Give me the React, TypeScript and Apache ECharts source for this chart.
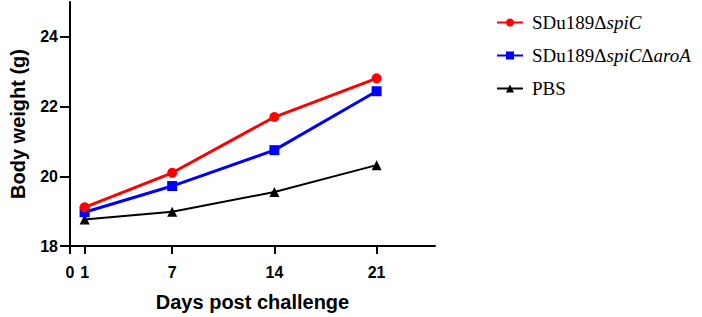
import React, { useEffect, useRef } from "react";
import * as echarts from "echarts";

const days = [1, 7, 14, 21];
const spiC = [19.11, 20.1, 21.7, 22.81];
const spiCaroA = [18.97, 19.72, 20.75, 22.44];
const pbs = [18.76, 18.98, 19.55, 20.32];
const xTicks = [0, 1, 7, 14, 21];
const yTicks = [18, 20, 22, 24];
const seriesNames = ["SDu189ΔspiC", "SDu189ΔspiCΔaroA", "PBS"];
const legendLabels: Record<string, string> = {
  "SDu189ΔspiC": "SDu189Δ{i|spiC}",
  "SDu189ΔspiCΔaroA": "SDu189Δ{i|spiC}Δ{i|aroA}",
  PBS: "PBS",
};

export default function App() {
  const ref = useRef<HTMLDivElement>(null);
  useEffect(() => {
    if (!ref.current) return;
    const chart = echarts.init(ref.current, undefined, { renderer: "svg" });
    const pair = (vals: number[]) => days.map((d, i) => [d, vals[i]]);
    const sans = "Liberation Sans";
    chart.setOption({
      animation: false,
      grid: { left: 64, top: 2, width: 371, height: 246, containLabel: false },
      xAxis: {
        type: "value",
        min: 0,
        max: 25,
        name: "Days post challenge",
        nameLocation: "middle",
        nameGap: 46,
        nameTextStyle: { fontFamily: sans, fontWeight: "bold", fontSize: 20, color: "#000" },
        axisLine: { show: true, onZero: false, lineStyle: { color: "#000", width: 2 } },
        axisTick: { show: true, length: 8, customValues: xTicks, lineStyle: { color: "#000", width: 2 } },
        axisLabel: {
          customValues: xTicks,
          margin: 18,
          fontFamily: sans,
          fontWeight: "bold",
          fontSize: 16,
          color: "#000",
        },
        splitLine: { show: false },
      },
      yAxis: {
        type: "value",
        min: 18,
        max: 25,
        name: "Body weight (g)",
        nameLocation: "middle",
        nameGap: 42,
        nameTextStyle: { fontFamily: sans, fontWeight: "bold", fontSize: 20, color: "#000" },
        axisLine: { show: true, onZero: false, lineStyle: { color: "#000", width: 2 } },
        axisTick: { show: true, length: 10, customValues: yTicks, lineStyle: { color: "#000", width: 2 } },
        axisLabel: {
          customValues: yTicks,
          margin: 12,
          fontFamily: sans,
          fontWeight: "bold",
          fontSize: 16,
          color: "#000",
        },
        splitLine: { show: false },
      },
      legend: {
        orient: "vertical",
        left: 491,
        top: 7,
        itemWidth: 26,
        itemHeight: 10,
        itemGap: 12,
        data: seriesNames,
        formatter: (name: string) => legendLabels[name] || name,
        textStyle: {
          fontFamily: "Liberation Serif",
          fontSize: 19,
          color: "#000",
          lineHeight: 21,
          padding: [0, 0, 0, 4],
          rich: {
            i: { fontFamily: "Liberation Serif", fontStyle: "italic", fontSize: 19, color: "#000", lineHeight: 21 },
          },
        },
      },
      series: [
        {
          name: seriesNames[0],
          type: "line",
          data: pair(spiC),
          symbol: "circle",
          symbolSize: 10,
          color: "#ff0000",
          lineStyle: { width: 3, color: "#ff0000" },
          itemStyle: { color: "#ff0000" },
          z: 3,
        },
        {
          name: seriesNames[1],
          type: "line",
          data: pair(spiCaroA),
          symbol: "rect",
          symbolSize: 10,
          color: "#0000ff",
          lineStyle: { width: 3, color: "#0000ff" },
          itemStyle: { color: "#0000ff" },
          z: 2,
        },
        {
          name: seriesNames[2],
          type: "line",
          data: pair(pbs),
          symbol: "triangle",
          symbolSize: 10,
          color: "#000",
          lineStyle: { width: 2, color: "#000" },
          itemStyle: { color: "#000" },
          z: 1,
        },
      ],
    });
    return () => chart.dispose();
  }, []);
  return <div ref={ref} style={{ width: 702, height: 317, position: "absolute", left: 0, top: 0 }} />;
}
